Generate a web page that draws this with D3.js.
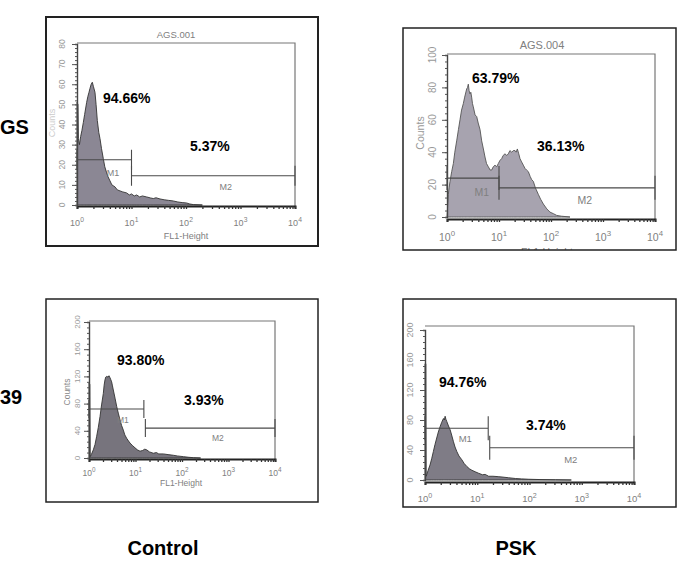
<!DOCTYPE html>
<html>
<head>
<meta charset="utf-8">
<script src="https://cdn.jsdelivr.net/npm/d3@7"></script>
<style>
  body { margin: 0; background: #fff; }
  svg { display: block; font-family: "Liberation Sans", Arial, sans-serif; }
</style>
</head>
<body>
<svg width="680" height="571"></svg>
<script>
// histograms: [log10(FL1-Height), counts]
const agsControl = [[0,0],[0,51],[0.018,50],[0.026,33],[0.045,30],[0.067,34],[0.09,37],[0.116,41],[0.14,45],[0.177,51],[0.2,54],[0.22,56],[0.239,58],[0.26,60],[0.281,61],[0.3,59],[0.33,56],[0.35,50],[0.373,42],[0.4,36],[0.422,33],[0.45,28],[0.483,23],[0.51,19],[0.544,16],[0.57,14],[0.605,12],[0.64,10],[0.697,9],[0.74,7.5],[0.789,7],[0.84,6.5],[0.911,6],[0.96,5],[1.0,5.5],[1.05,4.5],[1.095,5],[1.15,4],[1.2,4.5],[1.278,4],[1.35,3.5],[1.4,3.2],[1.45,3.6],[1.523,3],[1.6,2.6],[1.68,2.3],[1.768,2],[1.85,1.5],[1.93,1.2],[2.012,1],[2.07,0.5],[2.135,0.2],[2.3,0]];

const agsPsk = [[0,0],[0.026,14],[0.04,18],[0.058,22],[0.09,28],[0.122,33],[0.15,40],[0.186,47],[0.22,54],[0.25,60],[0.28,66],[0.314,70],[0.34,74],[0.378,79],[0.395,80],[0.41,82],[0.425,78],[0.442,76],[0.458,77],[0.474,74],[0.49,70],[0.506,68],[0.54,63],[0.571,62],[0.6,58],[0.635,54],[0.667,47],[0.7,42],[0.731,37],[0.76,33],[0.795,31],[0.83,29],[0.859,29],[0.89,31],[0.923,32],[0.955,31],[0.987,33],[1.02,35],[1.051,36],[1.08,38],[1.115,39],[1.15,38],[1.179,39],[1.21,41],[1.244,40],[1.275,41],[1.308,41],[1.33,40],[1.353,42],[1.38,39],[1.404,36],[1.435,34],[1.468,32],[1.5,30],[1.53,29],[1.564,28],[1.6,25],[1.63,23],[1.66,22],[1.7,18],[1.756,14],[1.8,11],[1.853,8],[1.92,5],[1.981,3],[2.05,2],[2.109,1],[2.2,0.5],[2.365,0]];

const c39Control = [[0,0],[0,110],[0.018,108],[0.026,2],[0.05,5],[0.093,12],[0.13,20],[0.165,32],[0.2,45],[0.237,61],[0.27,78],[0.308,95],[0.325,107],[0.344,115],[0.36,119],[0.38,120],[0.41,119],[0.43,121],[0.452,118],[0.47,115],[0.487,112],[0.505,106],[0.523,100],[0.56,88],[0.595,76],[0.63,66],[0.667,56],[0.7,48],[0.738,41],[0.77,34],[0.81,29],[0.85,25],[0.882,22],[0.94,18],[0.989,15],[1.04,12],[1.097,10],[1.15,11],[1.2,13],[1.24,12],[1.3,9],[1.384,7],[1.45,8],[1.5,6],[1.599,6],[1.7,5],[1.814,4],[1.9,3],[2.029,2],[2.15,1],[2.244,0.5],[2.4,0]];

const c39Psk = [[0,0],[0,155],[0.016,155],[0.022,5],[0.032,7],[0.06,13],[0.096,20],[0.13,29],[0.16,38],[0.19,47],[0.224,56],[0.255,64],[0.288,71],[0.32,77],[0.353,82],[0.37,80],[0.385,85],[0.4,81],[0.417,78],[0.45,72],[0.481,67],[0.51,60],[0.545,51],[0.575,44],[0.609,38],[0.65,32],[0.705,27],[0.75,22],[0.801,18],[0.85,15],[0.897,13],[0.96,11],[1.026,9],[1.1,7],[1.15,7.5],[1.218,5],[1.3,5],[1.4,4.5],[1.474,4],[1.6,3],[1.731,2],[1.85,1.5],[1.987,1],[2.2,0.6],[2.5,0.3],[2.8,0]];

const percentM1 = ["94.66%", "63.79%", "93.80%", "94.76%"];
const percentM2 = ["5.37%", "36.13%", "3.93%", "3.74%"];
const gateEdge = [1.0, 1.0, 1.18, 1.21];      // log10 boundary M1 | M2
const gateM1Count = [22.5, 24, 72, 69];       // height of the M1 marker, in counts
const gateM2Count = [14.5, 18, 44, 43];
const yMax = [80, 100, 200, 200];
const yStep = [10, 20, 40, 40];
const fileNames = ["AGS.001", "AGS.004", "", ""];
const decades = [0, 1, 2, 3, 4];
const colLabels = ["Control", "PSK"];
const rowLabels = ["GS", "39"];   // only the visible part of the row names

const svg = d3.select("svg");

// layout of each small panel (pixels)
const panels = [
  { data: agsControl, box: [46, 17, 318, 246], boxW: 2, plot: [77, 43, 295, 206], yR: [205, 44],
    fill: "#8b8794", edge: "#333", tickFs: 9, tickDy: 20, yLabX: 62, tickHalf: 10,
    title: [176, 38], counts: [52, 123, "#ccc"], xTitle: [186, 239],
    p1: [103, 103], p2: [190, 151], m1: [0.66, 16], m2: [2.73, 9] },
  { data: agsPsk, box: [403, 28, 676, 250], boxW: 1.5, plot: [447, 54, 655, 219], yR: [217, 55],
    fill: "#a7a3af", edge: "#555", tickFs: 10.5, tickDy: 22, yLabX: 432, tickHalf: 12,
    title: [542, 49], counts: [420, 133, "#999"], xTitle: [547, 256],
    p1: [472, 83], p2: [537, 151], m1: [0.67, 15], m2: [2.65, 10.5] },
  { data: c39Control, box: [46, 299, 318, 502], boxW: 1.5, plot: [89, 321, 275, 459], yR: [458, 322],
    fill: "#77747d", edge: "#333", tickFs: 8.5, tickDy: 17, yLabX: 77, tickHalf: 9,
    title: null, counts: [67, 392, "#888"], xTitle: [181, 486],
    p1: [117, 365], p2: [184, 405], m1: [0.73, 56], m2: [2.77, 30] },
  { data: c39Psk, box: [403, 299, 676, 507], boxW: 1.5, plot: [425, 326, 634, 482], yR: [480, 330],
    fill: "#7f7c86", edge: "#333", tickFs: 9.5, tickDy: 20, yLabX: 410, tickHalf: 12,
    title: null, counts: null, xTitle: null,
    p1: [439, 387], p2: [526, 430], m1: [0.77, 55], m2: [2.79, 27] }
];

const grey = "#808080";

panels.forEach((p, i) => {
  const g = svg.append("g");
  const [x0, y0, x1, y1] = p.plot;

  const clipId = "clip" + i;
  svg.append("clipPath").attr("id", clipId)
    .append("rect").attr("x", p.box[0]).attr("y", p.box[1])
    .attr("width", p.box[2] - p.box[0]).attr("height", p.box[3] - p.box[1]);
  g.attr("clip-path", `url(#${clipId})`);

  const x = d3.scaleLog().domain([1, 1e4]).range([x0, x1]);
  const y = d3.scaleLinear().domain([0, yMax[i]]).range(p.yR);

  // top + right plot frame
  g.append("path")
    .attr("d", `M${x0},${y0}H${x1}V${y1}`)
    .attr("fill", "none").attr("stroke", "#777").attr("stroke-width", 1.2);

  // histogram
  const area = d3.area()
    .x(d => x(Math.pow(10, d[0])))
    .y0(y(0))
    .y1(d => y(d[1]));
  g.append("path").datum(p.data)
    .attr("d", area)
    .attr("fill", p.fill)
    .attr("stroke", p.edge).attr("stroke-width", 0.9).attr("stroke-linejoin", "round");

  // x axis: minor + major ticks on a log scale
  const xAxisG = g.append("g").attr("transform", `translate(0,${y1})`)
    .call(d3.axisBottom(x).tickSize(3).tickFormat(""));
  xAxisG.select(".domain").attr("stroke", "#222").attr("stroke-width", 2);
  xAxisG.selectAll(".tick line").attr("stroke", "#333").attr("stroke-width", 1.3);

  const lab = g.append("g").attr("fill", grey).attr("font-size", p.tickFs);
  decades.forEach(e => {
    const t = lab.append("text")
      .attr("x", x(Math.pow(10, e))).attr("y", y1 + p.tickDy)
      .attr("text-anchor", "middle");
    t.append("tspan").text("10");
    t.append("tspan").attr("dy", -p.tickFs * 0.45).attr("font-size", p.tickFs * 0.75).text(e);
  });

  // y axis
  const yMinor = d3.range(0, yMax[i] + 0.01, yStep[i] / 5);
  const yMajor = d3.range(0, yMax[i] + 0.01, yStep[i]);
  const yMinG = g.append("g").attr("transform", `translate(${x0},0)`)
    .call(d3.axisLeft(y).tickValues(yMinor).tickSize(2).tickFormat(""));
  yMinG.select(".domain").attr("stroke", "#444").attr("stroke-width", 1.4);
  yMinG.selectAll(".tick line").attr("stroke", "#555");
  const yMajG = g.append("g").attr("transform", `translate(${x0},0)`)
    .call(d3.axisLeft(y).tickValues(yMajor).tickSize(5).tickFormat(""));
  yMajG.select(".domain").remove();
  yMajG.selectAll(".tick line").attr("stroke", "#555");

  yMajor.forEach(v => {
    g.append("text")
      .attr("transform", `translate(${p.yLabX},${y(v)}) rotate(-90)`)
      .attr("text-anchor", "middle").attr("dy", "0.35em")
      .attr("fill", "#999").attr("font-size", p.tickFs - 0.5)
      .text(v);
  });

  if (p.counts) {
    g.append("text")
      .attr("transform", `translate(${p.counts[0]},${p.counts[1]}) rotate(-90)`)
      .attr("text-anchor", "middle").attr("dy", "0.35em")
      .attr("fill", p.counts[2]).attr("font-size", p.tickFs)
      .text("Counts");
  }
  if (p.xTitle) {
    g.append("text").attr("x", p.xTitle[0]).attr("y", p.xTitle[1])
      .attr("text-anchor", "middle").attr("fill", grey).attr("font-size", p.tickFs)
      .text("FL1-Height");
  }
  if (p.title) {
    g.append("text").attr("x", p.title[0]).attr("y", p.title[1])
      .attr("text-anchor", "middle").attr("fill", grey).attr("font-size", p.tickFs + 0.5)
      .text(fileNames[i]);
  }

  // M1 / M2 gate markers
  const xe = x(Math.pow(10, gateEdge[i]));
  const h1 = y(gateM1Count[i]);
  const h2 = y(gateM2Count[i]);
  const th = p.tickHalf;
  const gate = g.append("g").attr("fill", "none").attr("stroke", "#4a4a4a").attr("stroke-width", 1.1);
  gate.append("path").attr("d", `M${x0},${h1 - th}V${h1 + th}M${x0},${h1}H${xe}M${xe},${h1 - th}V${h1 + th}`);
  const xm2 = xe + (i >= 2 ? 1.5 : 0);
  gate.append("path").attr("d", `M${xm2},${h2 - th}V${h2 + th}M${xm2},${h2}H${x1}M${x1},${h2 - th}V${h2 + th}`);

  g.append("text").attr("x", x(Math.pow(10, p.m1[0]))).attr("y", y(p.m1[1]))
    .attr("text-anchor", "middle").attr("dy", "0.35em")
    .attr("fill", grey).attr("font-size", p.tickFs).text("M1");
  g.append("text").attr("x", x(Math.pow(10, p.m2[0]))).attr("y", y(p.m2[1]))
    .attr("text-anchor", "middle").attr("dy", "0.35em")
    .attr("fill", grey).attr("font-size", p.tickFs).text("M2");

  // percentages
  svg.append("text").attr("x", p.p1[0]).attr("y", p.p1[1])
    .attr("font-size", 14).attr("font-weight", "bold").text(percentM1[i]);
  svg.append("text").attr("x", p.p2[0]).attr("y", p.p2[1])
    .attr("font-size", 14).attr("font-weight", "bold").text(percentM2[i]);

  // outer box
  svg.append("rect")
    .attr("x", p.box[0]).attr("y", p.box[1])
    .attr("width", p.box[2] - p.box[0]).attr("height", p.box[3] - p.box[1])
    .attr("fill", "none").attr("stroke", "#222").attr("stroke-width", p.boxW);
});

// row / column labels
const colX = [163, 516];
colLabels.forEach((t, i) => {
  svg.append("text").attr("x", colX[i]).attr("y", 555)
    .attr("text-anchor", "middle").attr("font-size", 20).attr("font-weight", "bold").text(t);
});
const rowY = [134, 404];
rowLabels.forEach((t, i) => {
  svg.append("text").attr("x", 0).attr("y", rowY[i])
    .attr("font-size", 20).attr("font-weight", "bold").text(t);
});
</script>
</body>
</html>
